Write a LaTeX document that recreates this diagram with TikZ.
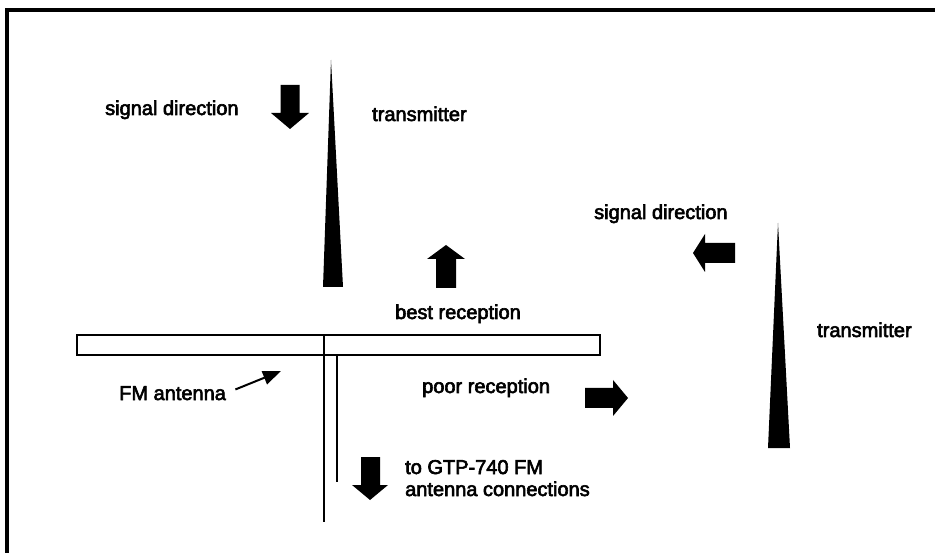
\documentclass[tikz,border=0pt]{standalone}
\usepackage{fontspec}
\setmainfont{Liberation Sans}
\newfontfamily\scanfont{Liberation Sans}[FakeBold=3]
\usetikzlibrary{arrows.meta}
\begin{document}
\begin{tikzpicture}[x=1pt,y=-1pt,
  lbl/.style={anchor=base west, inner sep=0pt, font=\scanfont\fontsize{20}{22}\selectfont},
  blockarrow/.style={fill=black},
  tower/.style={fill=black},
  wire/.style={line width=2pt},
  frameline/.style={line width=4pt}]
\useasboundingbox (0,0) rectangle (935,553);
% frame (open at right and bottom)
\draw[frameline] (935,10) -- (7,10) -- (7,553);

% transmitters
\fill[tower] (331,60) -- (343,287) -- (323,287) -- cycle;
\fill[tower] (778,223) -- (790,448) -- (768,448) -- cycle;

% antenna
\draw[line width=2.5pt] (77,335) rectangle (600,355);
\draw[wire] (324,335) -- (324,522);
\draw[wire] (337,355) -- (337,482);

% block arrows
\fill[blockarrow] (280.5,85) -- (299.5,85) -- (299.5,113) -- (309,113) -- (290,129) -- (271,113) -- (280.5,113) -- cycle;
\fill[blockarrow] (436,288) -- (456,288) -- (456,259) -- (465,259) -- (446,245) -- (427,259) -- (436,259) -- cycle;
\fill[blockarrow] (735,243) -- (735,263) -- (705,263) -- (705,272) -- (693,253) -- (705,234) -- (705,243) -- cycle;
\fill[blockarrow] (585,388) -- (585,408) -- (613,408) -- (613,416) -- (628,398) -- (613,380) -- (613,388) -- cycle;
\fill[blockarrow] (361,457) -- (380,457) -- (380,485) -- (388,485) -- (370,500) -- (352,485) -- (361,485) -- cycle;

% labels
\node[lbl] (sigA) at (105,115) {signal direction};
\node[lbl] (txA) at (372,121) {transmitter};
\node[lbl] (sigB) at (594,219) {signal direction};
\node[lbl] (txB) at (817,337) {transmitter};
\node[lbl] (best) at (395,319) {best reception};
\node[lbl] (poor) at (422,393) {poor reception};
\node[lbl] (fmant) at (119,400) {FM antenna};
\node[lbl] (gtpA) at (405,474) {to GTP-740 FM};
\node[lbl] (gtpB) at (405,496) {antenna connections};

% FM antenna pointer
\coordinate (fmtip) at (281,371);
\draw[line width=2pt, -{Triangle[length=18pt,width=14pt]}, shorten <=10pt] (fmant.east) -- (fmtip);
\end{tikzpicture}
\end{document}
